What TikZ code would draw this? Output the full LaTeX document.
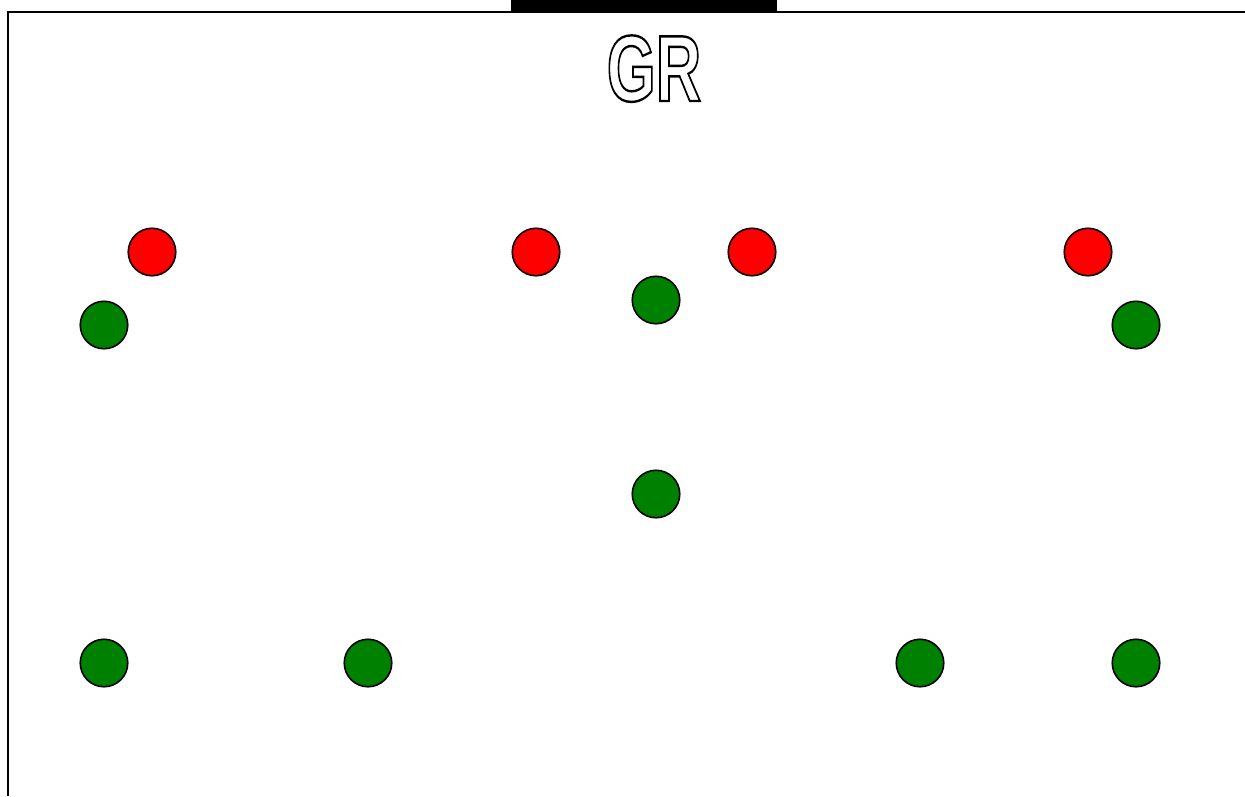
\documentclass[tikz,border=0pt]{standalone}
\usepackage{fontspec}
\setmainfont{Liberation Sans}
\definecolor{pgreen}{HTML}{008000}
\definecolor{pred}{HTML}{FF0000}
\newcommand{\outlinetext}[1]{\special{pdf:literal direct 1 Tr 2.4 w}#1\special{pdf:literal direct 0 Tr}}
\begin{document}
\begin{tikzpicture}[x=1pt,y=-1pt,
  player/.style={circle,draw=black,line width=1.6pt,minimum size=47.5pt,inner sep=0pt},
  attacker/.style={player,fill=pred},
  defender/.style={player,fill=pgreen},
  frame/.style={line width=1.6pt,black}]
\useasboundingbox (0,0) rectangle (1245,796);
% field frame
\coordinate (tl) at (8,12);
\coordinate (tr) at (1245,12);
\coordinate (bl) at (8,796);
\draw[frame] (bl) -- (tl) -- (tr);
% goal
\fill[black] (511,0) rectangle (777,11);
% goalkeeper label
\node[font=\fontsize{94}{94}\selectfont\bfseries, xscale=0.67, anchor=base, inner sep=0pt] (gr) at (654,101) {\outlinetext{GR}};
% red players
\node[attacker] (r1) at (152,252) {};
\node[attacker] (r2) at (536,252) {};
\node[attacker] (r3) at (752,252) {};
\node[attacker] (r4) at (1088,252) {};
% green players
\node[defender] (g1) at (104,325) {};
\node[defender] (g2) at (656,300) {};
\node[defender] (g3) at (1136,325) {};
\node[defender] (g4) at (656,494) {};
\node[defender] (g5) at (104,663) {};
\node[defender] (g6) at (368,663) {};
\node[defender] (g7) at (920,663) {};
\node[defender] (g8) at (1136,663) {};
\end{tikzpicture}
\end{document}
